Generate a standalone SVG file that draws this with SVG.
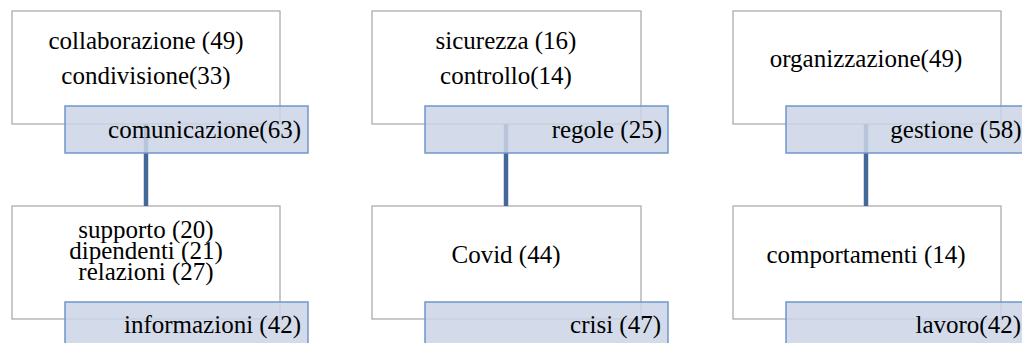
<svg xmlns="http://www.w3.org/2000/svg" width="1022" height="343" viewBox="0 0 1022 343">
<style>
.wb{fill:#ffffff;stroke:#a6a6a6;stroke-width:1.2}
.bb{fill:#cbd5e6;fill-opacity:0.85;stroke:#6f97cb;stroke-width:1.5}
.conn{stroke:#45689a;stroke-width:4.5;fill:none}
text{font-family:"Liberation Serif","Times New Roman",serif;font-size:25px;fill:#000000}
.c{text-anchor:middle}
.r{text-anchor:end}
</style>
<rect width="1022" height="343" fill="#ffffff"/>
<g id="n1">
<rect class="wb" x="12" y="11" width="268" height="113"/>
<text class="c" x="146" y="48.5">collaborazione (49)</text>
<text class="c" x="146" y="84">condivisione(33)</text>
</g>
<g id="n4">
<rect class="wb" x="12" y="206" width="268" height="113"/>
<text class="c" x="146" y="237.5">supporto (20)</text>
<text class="c" x="146" y="258.5">dipendenti (21)</text>
<text class="c" x="146" y="279.5">relazioni (27)</text>
</g>
<g id="n2">
<rect class="wb" x="372" y="11" width="269" height="113"/>
<text class="c" x="506" y="48.5">sicurezza (16)</text>
<text class="c" x="506" y="84">controllo(14)</text>
</g>
<g id="n5">
<rect class="wb" x="372" y="206" width="269" height="113"/>
<text class="c" x="506" y="263">Covid (44)</text>
</g>
<g id="n3">
<rect class="wb" x="733" y="11" width="268" height="113"/>
<text class="c" x="866" y="67">organizzazione(49)</text>
</g>
<g id="n6">
<rect class="wb" x="733" y="206" width="268" height="113"/>
<text class="c" x="866" y="263">comportamenti (14)</text>
</g>
<g id="connectors">
<line class="conn" x1="146" y1="124" x2="146" y2="206"/>
<line class="conn" x1="506" y1="124" x2="506" y2="206"/>
<line class="conn" x1="866" y1="124" x2="866" y2="206"/>
</g>
<g id="l1">
<rect class="bb" x="65" y="106" width="243" height="47"/>
<text class="r" x="301" y="137.5">comunicazione(63)</text>
</g>
<g id="l2">
<rect class="bb" x="425" y="106" width="243" height="47"/>
<text class="r" x="662" y="137.5">regole (25)</text>
</g>
<g id="l3">
<rect class="bb" x="786" y="106" width="243" height="47"/>
<text class="r" x="1021.5" y="137.5">gestione (58)</text>
</g>
<g id="l4">
<rect class="bb" x="65" y="302" width="243" height="47"/>
<text class="r" x="301" y="333">informazioni (42)</text>
</g>
<g id="l5">
<rect class="bb" x="425" y="302" width="243" height="47"/>
<text class="r" x="661" y="333">crisi (47)</text>
</g>
<g id="l6">
<rect class="bb" x="786" y="302" width="243" height="47"/>
<text class="r" x="1021" y="333">lavoro(42)</text>
</g>
</svg>
